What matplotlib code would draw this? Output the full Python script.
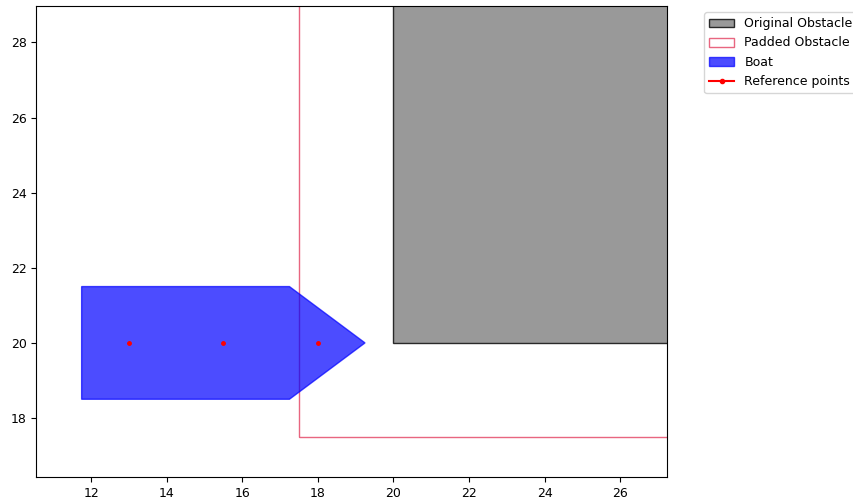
import numpy as np
import matplotlib.pyplot as plt
from matplotlib.patches import Polygon, Rectangle
from matplotlib.lines import Line2D

plt.rcParams['font.size'] = 9

# boat hull outline (x, y)
boat_x = [11.75, 17.25, 19.25, 17.25, 11.75]
boat_y = [18.5, 18.5, 20.0, 21.5, 21.5]

# reference points along the centreline
ref_x = [13.0, 15.5, 18.0]
ref_y = [20.0, 20.0, 20.0]

# obstacle corner and size, plus padding
obs_x, obs_y = 20.0, 20.0
obs_w, obs_h = 10.0, 10.0
padding = 2.5

fig = plt.figure(figsize=(8.54, 5.0), dpi=100)
ax = fig.add_axes([0.0425, 0.046, 0.738, 0.942])

orig = Rectangle((obs_x, obs_y), obs_w, obs_h, facecolor='gray', edgecolor='black',
                 alpha=0.8, label='Original Obstacle')
padded = Rectangle((obs_x - padding, obs_y - padding), obs_w + 2 * padding, obs_h + 2 * padding,
                   fill=False, edgecolor='crimson', alpha=0.65, label='Padded Obstacle')
ax.add_patch(orig)
ax.add_patch(padded)

boat = Polygon(np.column_stack([boat_x, boat_y]), closed=True, facecolor='blue',
               edgecolor='blue', alpha=0.7, label='Boat')
ax.add_patch(boat)

ax.plot(ref_x, ref_y, 'o', color='red', markersize=2.5, linestyle='none')

ax.set_xlim(10.55, 27.23)
ax.set_ylim(16.43, 28.97)

handles = [orig, padded, boat,
           Line2D([], [], color='red', marker='o', markersize=3, label='Reference points')]
ax.legend(handles=handles, bbox_to_anchor=(1.05, 1), loc='upper left')

plt.savefig('out.png', dpi=100)
plt.close()
